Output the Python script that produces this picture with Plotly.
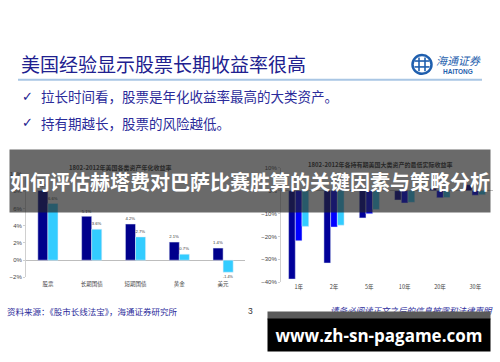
import plotly.graph_objects as go

W, H = 500, 362

# ---------------- data ----------------
left_title = "1802-2012年美国各类资产年化收益率"
left_categories = ["股票", "长期国债", "短期国债", "黄金", "美元"]
left_nominal = [8.1, 5.1, 4.2, 2.1, 1.4]
left_real = [6.6, 3.6, 2.7, 0.7, -1.4]

right_title = "1802-2012年各持有期美国大类资产的最低实际收益率"
right_categories = ["1年", "2年", "5年", "10年", "20年", "30年"]
right_stocks = [-38.6, -31.6, -11.9, -4.1, 1.0, 2.6]
right_bonds = [-21.9, -15.9, -10.1, -5.4, -3.1, -2.0]
right_bills = [-15.6, -15.1, -8.2, -5.1, -3.0, -1.8]

heading = "美国经验显示股票长期收益率很高"
bullets = ["拉长时间看，股票是年化收益率最高的大类资产。", "持有期越长，股票的风险越低。"]
source = "资料来源：《股市长线法宝》，海通证券研究所"
page_no = "3"
disclaimer = "请务必阅读正文之后的信息披露和法律声明"
banner = "如何评估赫塔费对巴萨比赛胜算的关键因素与策略分析"
watermark = "www.zh-sn-pagame.com"


def px(x):
    return x / W


def py(y):
    return 1 - y / H


CJK = "Noto Sans CJK SC"
NAVY = "#00008c"
CYAN = "#33ccff"
BLUE = "#0000ff"
TEXT_BLUE = "#2b2b9a"

fig = go.Figure()

# left chart
fig.add_trace(go.Bar(x=left_categories, y=left_nominal, marker_color=NAVY,
                     width=0.23, offset=-0.23,
                     text=[f"{v:.1f}%" for v in left_nominal], textposition="outside",
                     textfont=dict(size=6, color="#333", family="Arial"),
                     cliponaxis=False, xaxis="x", yaxis="y"))
fig.add_trace(go.Bar(x=left_categories, y=left_real, marker_color=CYAN,
                     width=0.23, offset=0.0,
                     text=[f"{v:.1f}%" for v in left_real], textposition="outside",
                     textfont=dict(size=6, color="#333", family="Arial"),
                     cliponaxis=False, xaxis="x", yaxis="y"))

# right chart
for vals, col, off in [(right_stocks, "#00009a", -0.285), (right_bonds, BLUE, -0.095),
                       (right_bills, CYAN, 0.095)]:
    fig.add_trace(go.Bar(x=right_categories, y=vals, marker_color=col,
                         width=0.19, offset=off, cliponaxis=False,
                         xaxis="x2", yaxis="y2"))

axis_font = dict(size=6, color="#444", family="Arial")
fig.update_layout(
    width=W, height=H, margin=dict(l=0, r=0, t=0, b=0),
    paper_bgcolor="white", plot_bgcolor="rgba(0,0,0,0)",
    showlegend=False, barmode="group",
    xaxis=dict(domain=[px(26), px(245)], anchor="y", type="category",
               tickfont=dict(size=5.5, color="#444", family=CJK), showgrid=False,
               showline=False, ticks="", ticklabelstandoff=2),
    yaxis=dict(domain=[py(279), py(174)], anchor="x", range=[-2, 10], dtick=2,
               ticksuffix="%", tickfont=axis_font, showgrid=False,
               zeroline=True, zerolinecolor="#bdbdbd", zerolinewidth=1,
               showline=True, linecolor="#d0d0d0", linewidth=1,
               ticks="outside", ticklen=2, tickcolor="#d0d0d0"),
    xaxis2=dict(domain=[px(281), px(493)], anchor="y2", type="category",
                tickfont=dict(size=5.5, color="#444", family=CJK), showgrid=False,
                showline=False, ticks=""),
    yaxis2=dict(domain=[py(284), py(167.5)], anchor="x2", range=[-40, 10], dtick=10,
                ticksuffix="%", tickfont=axis_font, showgrid=False,
                zeroline=True, zerolinecolor="#bdbdbd", zerolinewidth=1,
                showline=True, linecolor="#d0d0d0", linewidth=1,
                ticks="outside", ticklen=2, tickcolor="#d0d0d0"),
)

shapes = []
# heading underline
shapes.append(dict(type="line", xref="paper", yref="paper", x0=px(18), x1=px(482),
                   y0=py(78), y1=py(78), line=dict(color="#a9c6e4", width=2)))
# logo circle
shapes.append(dict(type="circle", xref="paper", yref="paper", x0=px(412.5), x1=px(431.5),
                   y0=py(72), y1=py(53), line=dict(color="#1f5fae", width=2.5)))
for x in (419, 425):
    shapes.append(dict(type="line", xref="paper", yref="paper", x0=px(x), x1=px(x),
                       y0=py(55.5), y1=py(69.5), line=dict(color="#1f5fae", width=1.6)))
for y in (59, 65):
    shapes.append(dict(type="line", xref="paper", yref="paper", x0=px(414.5), x1=px(429.5),
                       y0=py(y), y1=py(y), line=dict(color="#1f5fae", width=1.6)))
fig.update_layout(shapes=shapes)

ann = []


def add_text(text, x, y, size, color, family=CJK, xanchor="center", **kw):
    ann.append(dict(text=text, x=px(x), y=py(y), xref="paper", yref="paper",
                    xanchor=xanchor, yanchor="middle", showarrow=False,
                    font=dict(size=size, color=color, family=family), **kw))


add_text(heading, 19, 62, 19, "#20208f", xanchor="left")
for i, b in enumerate(bullets):
    yy = 95 + i * 27
    add_text("✓", 20, yy, 13, "#20208f", family="DejaVu Sans", xanchor="left")
    add_text(b, 39, yy, 13.5, TEXT_BLUE, xanchor="left")
add_text("<i>海通证券</i>", 458, 58, 11, "#1f5fae")
add_text("<b>HAITONG</b>", 458, 69.5, 6.5, "#1f5fae", family="Arial")

add_text("<b>" + left_title + "</b>", 120, 167, 6, "#333")
add_text("<b>" + right_title + "</b>", 380, 164, 6, "#333")

add_text(source, 5, 313, 8.5, TEXT_BLUE, xanchor="left")
add_text(page_no, 250, 313, 8.5, "#333", family="Arial")
add_text("<i>" + disclaimer + "</i>", 495, 312, 8.5, TEXT_BLUE, xanchor="right")

# banner overlay (annotation box drawn over the charts)
ann.append(dict(text="<b>" + banner + "</b>", x=px(250), y=py(181), xref="paper", yref="paper",
                xanchor="center", yanchor="middle", showarrow=False,
                width=480, height=62, bgcolor="rgba(35,35,35,0.68)", borderpad=0,
                font=dict(size=20, color="white", family=CJK)))
# watermark box
ann.append(dict(text="", x=px(379), y=py(318), xref="paper", yref="paper",
                xanchor="center", yanchor="middle", showarrow=False,
                width=222, height=7, bgcolor="#5a5a5a", borderpad=0,
                font=dict(size=6, color="white")))
ann.append(dict(text="<b>" + watermark + "</b>", x=px(379), y=py(337.5), xref="paper", yref="paper",
                xanchor="center", yanchor="middle", showarrow=False,
                width=222, height=32, bgcolor="black", borderpad=0,
                font=dict(size=17, color="white", family="Open Sans")))

fig.update_layout(annotations=ann)

fig.write_html("out.html")
